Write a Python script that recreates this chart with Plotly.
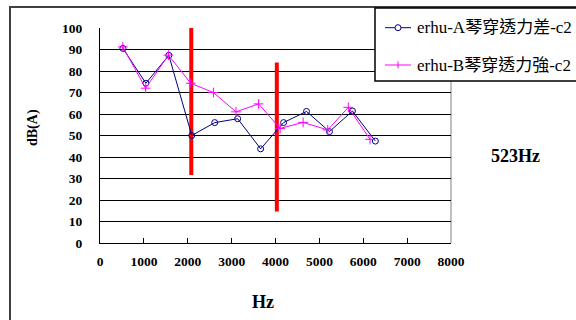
import plotly.graph_objects as go

# Harmonic frequencies (Hz) and levels (dB(A)) for the two erhu recordings
freq_a = [523, 1046, 1569, 2092, 2615, 3138, 3661, 4184, 4707, 5230, 5753, 6276]
level_a = [90.5, 74.3, 87.3, 50, 56, 57.8, 43.8, 56, 61.2, 51.8, 61.4, 47.4]

freq_b = [520, 1040, 1560, 2068, 2585, 3100, 3615, 4105, 4630, 5190, 5660, 6155]
level_b = [91.2, 72, 87.4, 74.3, 70, 61, 64.7, 53.3, 56.1, 52.6, 63.1, 48.2]

# Red reference markers (frequency, bottom, top)
ref_x = [2080, 4030]
ref_bottom = [31.6, 14.6]
ref_top = [101.4, 84.0]

# Axis ticks
x_ticks = [0, 1000, 2000, 3000, 4000, 5000, 6000, 7000, 8000]
y_ticks = [0, 10, 20, 30, 40, 50, 60, 70, 80, 90, 100]

name_a = "erhu-A琴穿透力差-c2"
name_b = "erhu-B琴穿透力強-c2"
note = "523Hz"

W, H = 576, 320
L, R, T, B = 100, 125, 28, 77
PW, PH = W - L - R, H - T - B


def px(x):
    return (x - L) / PW


def py(y):
    return (H - B - y) / PH


SERIF = "Liberation Serif, Times New Roman, Noto Sans CJK TC, serif"
NAVY = "#000080"
MAGENTA = "#FF00FF"

fig = go.Figure()

for x0, y0, y1 in zip(ref_x, ref_bottom, ref_top):
    fig.add_trace(go.Scatter(
        x=[x0, x0], y=[y0, y1], mode="lines",
        line=dict(color="#FF0000", width=4), showlegend=False, hoverinfo="skip"))

fig.add_trace(go.Scatter(
    x=freq_a, y=level_a, mode="lines+markers", name=name_a,
    line=dict(color=NAVY, width=1),
    marker=dict(symbol="circle-open", size=6, color=NAVY, line=dict(color=NAVY, width=1)),
    showlegend=False))

fig.add_trace(go.Scatter(
    x=freq_b, y=level_b, mode="lines+markers", name=name_b,
    line=dict(color=MAGENTA, width=1),
    marker=dict(symbol="cross-thin-open", size=7, color=MAGENTA, line=dict(color=MAGENTA, width=1)),
    showlegend=False))

shapes = [
    # outer chart frame
    dict(type="rect", xref="paper", yref="paper", x0=px(10), x1=px(620), y0=py(7), y1=py(360),
         line=dict(color="#404040", width=2), fillcolor="rgba(0,0,0,0)", layer="below"),
    # plot area right edge
    dict(type="line", xref="paper", yref="paper", x0=1, x1=1, y0=0, y1=1,
         line=dict(color="#808080", width=1), layer="below"),
    # legend box
    dict(type="rect", xref="paper", yref="paper", x0=px(375), x1=px(620), y0=py(81), y1=py(8),
         line=dict(color="#000000", width=1.5), fillcolor="white", layer="above"),
    # legend samples
    dict(type="line", xref="paper", yref="paper", x0=px(385), x1=px(411), y0=py(27.7), y1=py(27.7),
         line=dict(color=NAVY, width=1), layer="above"),
    dict(type="circle", xref="paper", yref="paper", x0=px(395), x1=px(401), y0=py(24.7), y1=py(30.7),
         line=dict(color=NAVY, width=1), fillcolor="white", layer="above"),
    dict(type="line", xref="paper", yref="paper", x0=px(385), x1=px(411), y0=py(65), y1=py(65),
         line=dict(color=MAGENTA, width=1), layer="above"),
    dict(type="line", xref="paper", yref="paper", x0=px(398), x1=px(398), y0=py(61.5), y1=py(68.5),
         line=dict(color=MAGENTA, width=1), layer="above"),
]

annotations = [
    dict(text=name_a, x=px(415), y=py(27.7), xref="paper", yref="paper", xanchor="left",
         yanchor="middle", showarrow=False, font=dict(family=SERIF, size=17, color="black")),
    dict(text=name_b, x=px(415), y=py(65), xref="paper", yref="paper", xanchor="left",
         yanchor="middle", showarrow=False, font=dict(family=SERIF, size=17, color="black")),
    dict(text="<b>dB(A)</b>", x=px(33), y=py(128), xref="paper", yref="paper", textangle=-90,
         xanchor="center", yanchor="middle", showarrow=False,
         font=dict(family=SERIF, size=14, color="black")),
    dict(text="<b>Hz</b>", x=px(263), y=py(302), xref="paper", yref="paper",
         xanchor="center", yanchor="middle", showarrow=False,
         font=dict(family=SERIF, size=18, color="black")),
    dict(text="<b>" + note + "</b>", x=px(515), y=py(156), xref="paper", yref="paper",
         xanchor="center", yanchor="middle", showarrow=False,
         font=dict(family=SERIF, size=18, color="black")),
]

fig.update_layout(
    width=W, height=H,
    margin=dict(l=L, r=R, t=T, b=B, autoexpand=False),
    paper_bgcolor="white", plot_bgcolor="white",
    showlegend=False,
    shapes=shapes, annotations=annotations,
    xaxis=dict(range=[0, 8000], tickmode="array", tickvals=x_ticks,
               ticktext=["<b>%d</b>" % v for v in x_ticks],
               ticks="inside", ticklen=5,
               tickcolor="black", showline=True, linecolor="black", linewidth=1,
               showgrid=False, zeroline=False, ticklabelstandoff=6,
               tickfont=dict(family=SERIF, size=13.5, color="black")),
    yaxis=dict(range=[0, 100], tickmode="array", tickvals=y_ticks,
               ticktext=["<b>%d</b>" % v for v in y_ticks],
               ticks="inside", ticklen=5,
               tickcolor="black", showline=True, linecolor="black", linewidth=1,
               showgrid=True, gridcolor="black", gridwidth=1, zeroline=False,
               ticklabelstandoff=14,
               tickfont=dict(family=SERIF, size=13.5, color="black")),
)

fig.write_html("out.html")
